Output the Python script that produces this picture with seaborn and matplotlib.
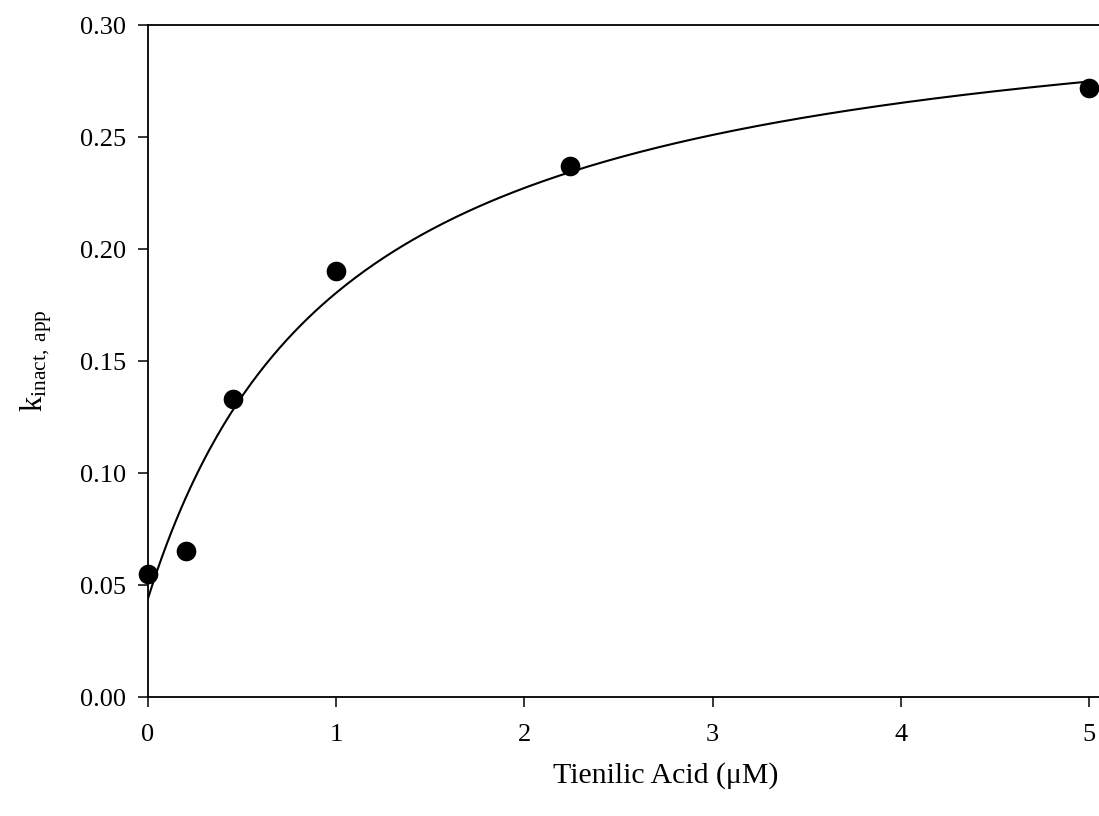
import numpy as np
import pandas as pd
import seaborn as sns
import matplotlib
matplotlib.use("Agg")
import matplotlib.pyplot as plt

# Data
tienilic_uM = [0.0, 0.2, 0.45, 1.0, 2.24, 5.0]
k_inact_app = [0.055, 0.065, 0.133, 0.190, 0.237, 0.272]

# Fitted hyperbola parameters
k0 = 0.044
kmax = 0.279
KI = 1.045

x_ticks = [0, 1, 2, 3, 4, 5]
y_ticks = [0.00, 0.05, 0.10, 0.15, 0.20, 0.25, 0.30]
y_tick_labels = ["0.00", "0.05", "0.10", "0.15", "0.20", "0.25", "0.30"]

sns.set_theme(style="white")
plt.rcParams["font.family"] = ["Liberation Serif", "DejaVu Serif"]
plt.rcParams["mathtext.fontset"] = "custom"
plt.rcParams["mathtext.rm"] = "Liberation Serif"
plt.rcParams["mathtext.it"] = "Liberation Serif:italic"

fig = plt.figure(figsize=(10.99, 8.16), dpi=100)
ax = fig.add_axes([148 / 1099, 1 - 697 / 816, (1099 - 148) / 1099, (697 - 25) / 816])

pts = pd.DataFrame({"x": tienilic_uM, "y": k_inact_app})
xc = np.linspace(0, 5, 400)
curve = pd.DataFrame({"x": xc, "y": k0 + kmax * xc / (KI + xc)})

sns.lineplot(data=curve, x="x", y="y", ax=ax, color="black", linewidth=1.5)
sns.scatterplot(data=pts, x="x", y="y", ax=ax, color="black", s=200,
                linewidth=0, zorder=5, clip_on=False)

ax.set_xlim(0, 5.053)
ax.set_ylim(0, 0.30)
ax.set_xticks(x_ticks)
ax.set_xticklabels([str(t) for t in x_ticks])
ax.set_yticks(y_ticks)
ax.set_yticklabels(y_tick_labels)

for side in ["left", "bottom", "top"]:
    ax.spines[side].set_visible(True)
    ax.spines[side].set_color("black")
    ax.spines[side].set_linewidth(1.3)
ax.spines["right"].set_visible(False)

ax.tick_params(axis="both", which="major", direction="out", length=7.2,
               width=1.1, color="black", labelsize=19, labelcolor="black")
ax.tick_params(axis="x", pad=12.5, top=False, bottom=True)
ax.tick_params(axis="y", pad=8.5, left=True, right=False)

ax.set_xlabel("Tienilic Acid (\u03bcM)", fontsize=21.5, color="black")
ax.set_ylabel(r"k$_{\mathregular{inact,\ app}}$", fontsize=22, color="black")
ax.xaxis.set_label_coords(0.544, -0.097)
ax.yaxis.set_label_coords(-0.099, 0.5)
ax.grid(False)

fig.savefig("out.png", dpi=100)
